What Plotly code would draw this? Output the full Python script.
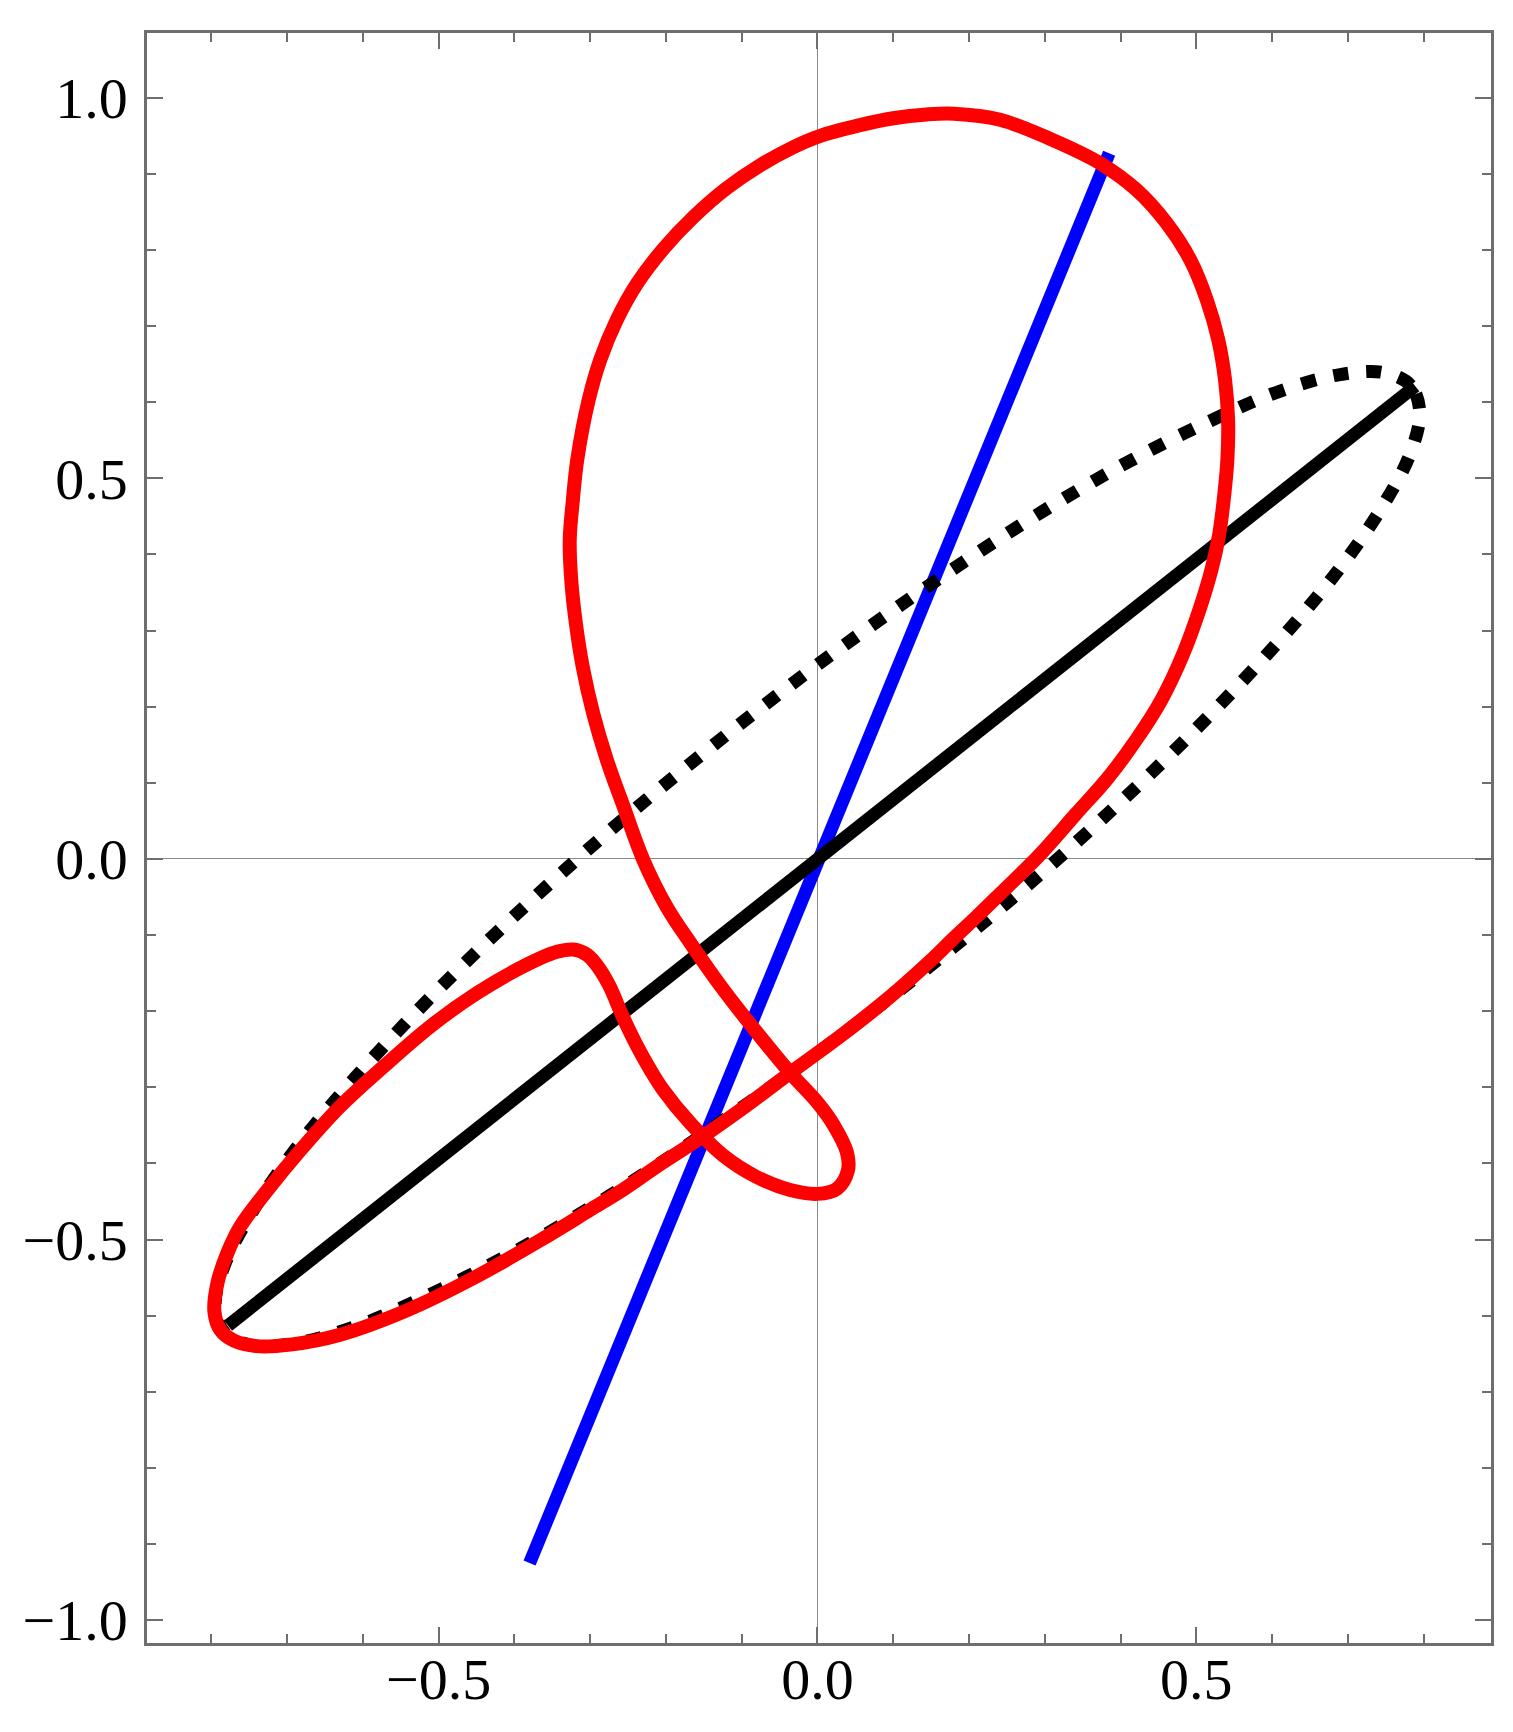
import plotly.graph_objects as go

# ---- data ----
red_x = [-0.322, -0.304, -0.291, -0.275, -0.258, -0.238, -0.220, -0.204, -0.168, -0.124,
         -0.080, -0.036, 0.000, 0.026, 0.040, 0.039, 0.021, 0.000, -0.036, -0.080,
         -0.124, -0.166, -0.199, -0.230, -0.256, -0.278, -0.296, -0.310, -0.319, -0.325,
         -0.327, -0.323, -0.317, -0.302, -0.287, -0.265, -0.238, -0.203, -0.164, -0.120,
         -0.076, -0.032, 0.001, 0.056, 0.100, 0.144, 0.180, 0.241, 0.307, 0.373,
         0.421, 0.461, 0.492, 0.514, 0.529, 0.538, 0.542, 0.541, 0.536, 0.530,
         0.520, 0.505, 0.483, 0.454, 0.421, 0.383, 0.341, 0.292, 0.243, 0.210,
         0.180, 0.149, 0.096, 0.030, -0.036, -0.102, -0.155, -0.212, -0.256, -0.300,
         -0.366, -0.453, -0.542, -0.630, -0.696, -0.740, -0.770, -0.788, -0.796, -0.792,
         -0.779, -0.762, -0.726, -0.682, -0.630, -0.573, -0.511, -0.449, -0.388, -0.344,
         -0.322]
red_y = [-0.119, -0.126, -0.140, -0.166, -0.205, -0.246, -0.278, -0.303, -0.347, -0.390,
         -0.418, -0.435, -0.440, -0.433, -0.410, -0.386, -0.349, -0.320, -0.281, -0.228,
         -0.172, -0.113, -0.063, -0.001, 0.069, 0.130, 0.191, 0.253, 0.310, 0.366,
         0.420, 0.470, 0.525, 0.603, 0.655, 0.708, 0.756, 0.802, 0.843, 0.881,
         0.911, 0.935, 0.949, 0.964, 0.973, 0.978, 0.979, 0.971, 0.946, 0.914,
         0.879, 0.835, 0.787, 0.734, 0.682, 0.629, 0.576, 0.524, 0.470, 0.425,
         0.380, 0.330, 0.270, 0.209, 0.157, 0.106, 0.059, 0.004, -0.044, -0.076,
         -0.104, -0.134, -0.181, -0.233, -0.281, -0.330, -0.367, -0.404, -0.434, -0.461,
         -0.501, -0.550, -0.593, -0.625, -0.638, -0.640, -0.633, -0.619, -0.595, -0.557,
         -0.518, -0.483, -0.435, -0.382, -0.325, -0.273, -0.220, -0.176, -0.141, -0.122,
         -0.119]

ell_x = [0.795, 0.783, 0.747, 0.688, 0.609, 0.511, 0.398, 0.272, 0.138, 0.0,
         -0.138, -0.272, -0.398, -0.511, -0.609, -0.688, -0.747, -0.783, -0.795,
         -0.783, -0.747, -0.688, -0.609, -0.511, -0.398, -0.272, -0.138, 0.0,
         0.138, 0.272, 0.398, 0.511, 0.609, 0.688, 0.747, 0.783, 0.795]
ell_y = [0.587, 0.622, 0.639, 0.636, 0.614, 0.572, 0.515, 0.441, 0.353, 0.255,
         0.149, 0.039, -0.073, -0.182, -0.286, -0.380, -0.465, -0.534, -0.587,
         -0.622, -0.639, -0.636, -0.614, -0.572, -0.515, -0.441, -0.353, -0.255,
         -0.149, -0.039, 0.073, 0.182, 0.286, 0.380, 0.465, 0.534, 0.587]

black_x = [-0.778, 0.789]
black_y = [-0.613, 0.621]
blue_x = [-0.380, 0.385]
blue_y = [-0.925, 0.927]

x_range = [-0.885, 0.889]
y_range = [-1.030, 1.085]
x_tick_vals = [-0.5, 0.0, 0.5]
x_tick_text = ["\u22120.5", "0.0", "0.5"]
y_tick_vals = [-1.0, -0.5, 0.0, 0.5, 1.0]
y_tick_text = ["\u22121.0", "\u22120.5", "0.0", "0.5", "1.0"]
x_minor_vals = [-0.8, -0.7, -0.6, -0.4, -0.3, -0.2, -0.1, 0.1, 0.2, 0.3, 0.4, 0.6, 0.7, 0.8]
y_minor_vals = [-0.9, -0.8, -0.7, -0.6, -0.4, -0.3, -0.2, -0.1, 0.1, 0.2, 0.3, 0.4,
                0.6, 0.7, 0.8, 0.9]

# ---- figure ----
fig = go.Figure()
fig.add_trace(go.Scatter(x=blue_x, y=blue_y, mode="lines",
                         line=dict(color="#0000ff", width=13)))
fig.add_trace(go.Scatter(x=ell_x, y=ell_y, mode="lines",
                         line=dict(color="black", width=13, dash="15px,18px", shape="spline")))
fig.add_trace(go.Scatter(x=black_x, y=black_y, mode="lines",
                         line=dict(color="black", width=13)))
fig.add_trace(go.Scatter(x=red_x, y=red_y, mode="lines",
                         line=dict(color="#ff0000", width=14, shape="spline", smoothing=1)))

frame_col = "#6e6e6e"
tickfont = dict(family="Liberation Serif, Times New Roman, serif", size=58, color="black")

def axis(rng, tv, tt, mv, standoff):
    return dict(range=rng, tickmode="array", tickvals=tv, ticktext=tt, automargin=False,
                showline=True, linecolor=frame_col, linewidth=2.5, mirror="ticks",
                ticks="inside", ticklen=16, tickwidth=2, tickcolor=frame_col,
                showgrid=False, zeroline=True, zerolinecolor="#8a8a8a", zerolinewidth=1.2,
                tickfont=tickfont, layer="above traces", ticklabelstandoff=standoff,
                minor=dict(tickmode="array", tickvals=mv, ticks="inside", ticklen=9,
                           tickwidth=2, tickcolor=frame_col, showgrid=False),
                fixedrange=True)

fig.update_layout(
    width=1513, height=1732,
    margin=dict(l=147, r=22, t=33, b=89, pad=0, autoexpand=False),
    paper_bgcolor="white", plot_bgcolor="white",
    showlegend=False,
    xaxis=axis(x_range, x_tick_vals, x_tick_text, x_minor_vals, -16),
    yaxis=axis(y_range, y_tick_vals, y_tick_text, y_minor_vals, 5),
)

fig.write_html("out.html", config={"displayModeBar": False},
               post_script="document.body.style.margin='0';document.body.style.overflow='hidden';")
